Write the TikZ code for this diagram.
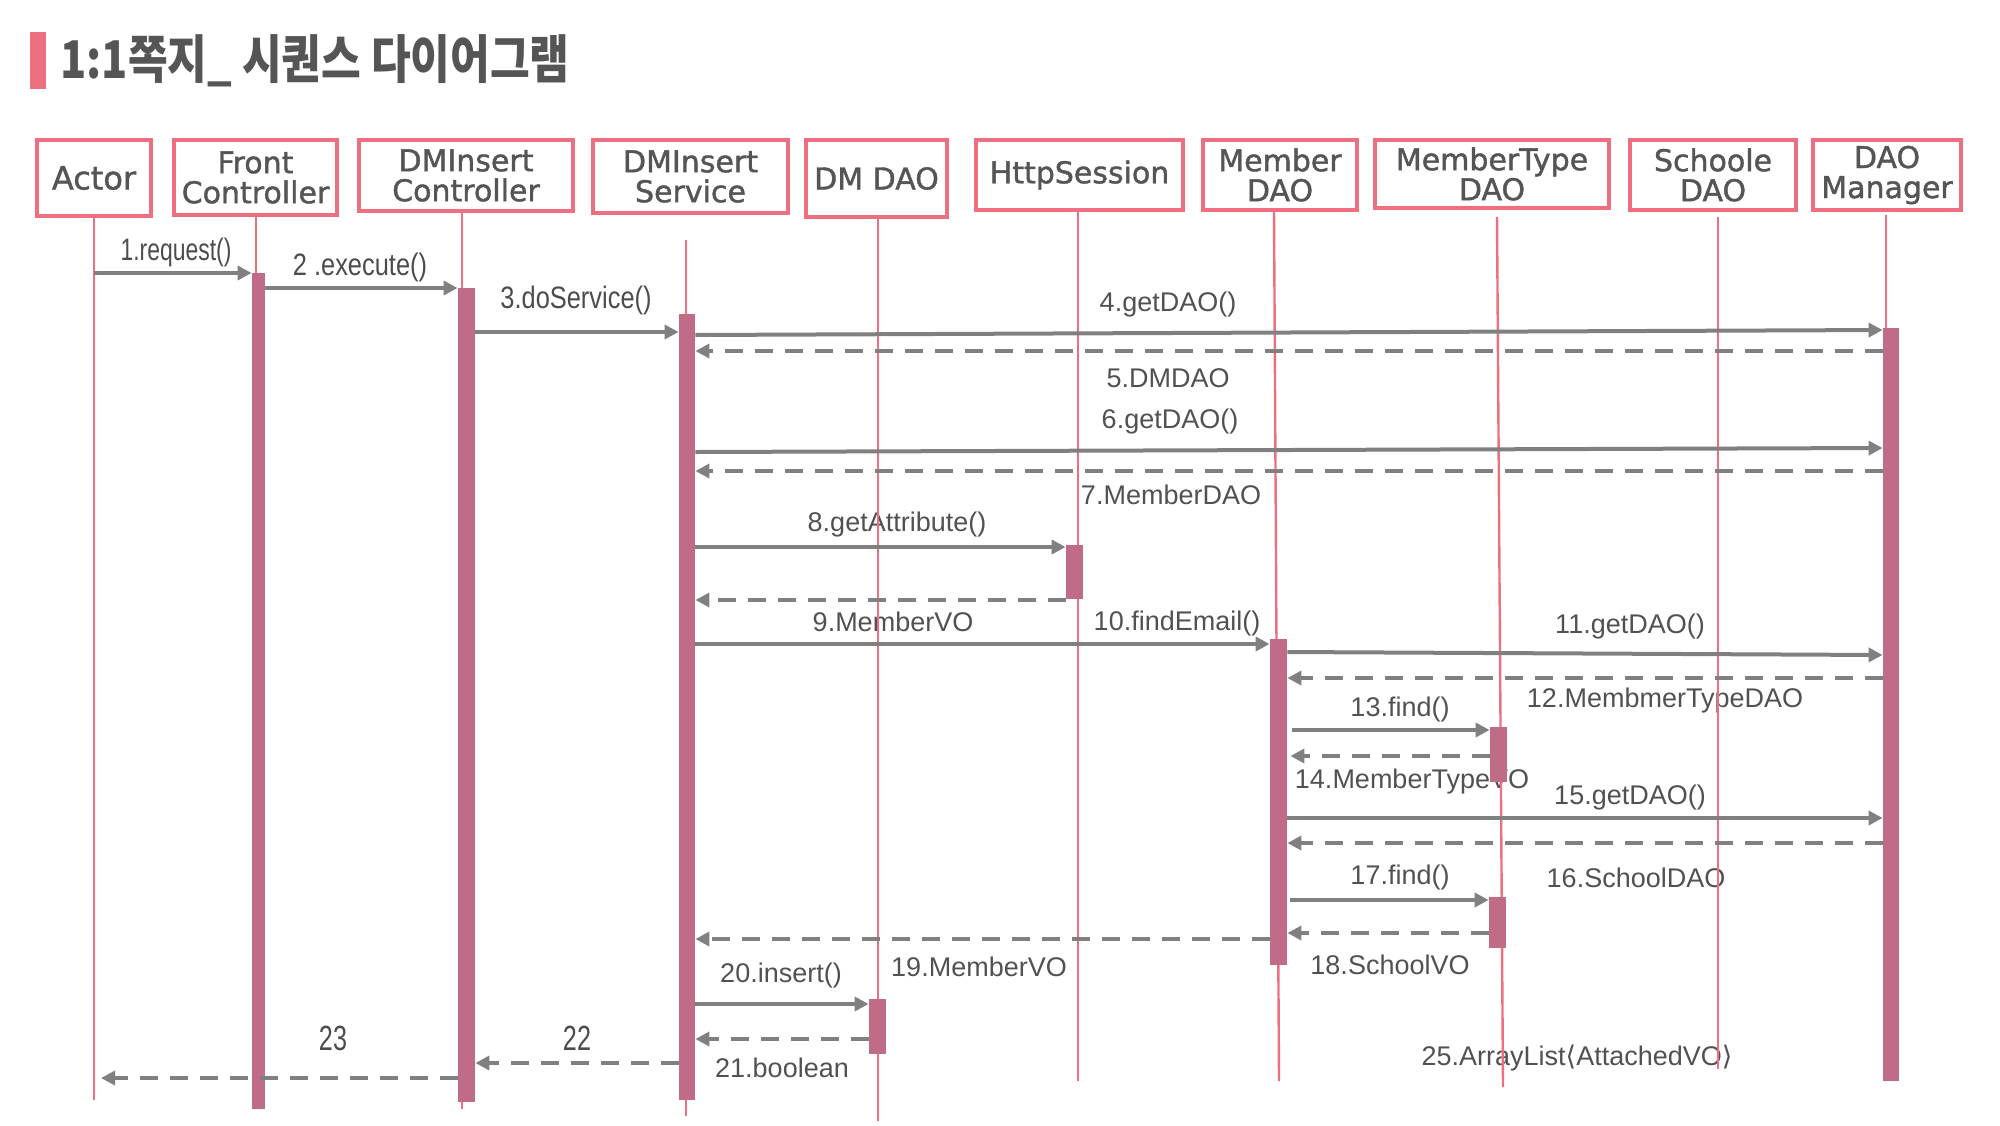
\documentclass[tikz,border=0pt]{standalone}
\usepackage{fontspec}
\usetikzlibrary{arrows.meta}
\newfontfamily\krfont{Noto Sans CJK KR}
\newfontfamily\boxfont[FakeBold=1.3]{DejaVu Sans}
\newfontfamily\brfont{DejaVu Sans}
\newfontfamily\lblfont{Liberation Sans}
\definecolor{pinkline}{HTML}{EE7080}
\definecolor{barcol}{HTML}{C06C86}
\definecolor{arrgray}{HTML}{808080}
\definecolor{txtgray}{HTML}{555555}
\tikzset{
  box/.style={draw=pinkline, line width=2pt, fill=white, inner sep=0pt, text=txtgray,
    font=\boxfont\fontsize{15}{15}\selectfont, align=center},
  life/.style={draw=pinkline, line width=1.2pt},
  actbar/.style={fill=barcol, draw=none, inner sep=0pt, minimum width=8.5pt},
  msg/.style={draw=arrgray, line width=2pt, -{Triangle[length=7pt,width=7pt]}},
  ret/.style={msg, dash pattern=on 9pt off 6pt},
  lbl/.style={text=txtgray!95!black, font=\lblfont\fontsize{13.5}{13.5}\selectfont, inner sep=0pt},
  clbl/.style={text=txtgray!90!black, font=\lblfont\fontsize{15.5}{15.5}\selectfont, inner sep=0pt}
}
\begin{document}
\begin{tikzpicture}[x=0.5pt,y=-0.5pt]
\useasboundingbox (0,0) rectangle (2000,1125);
% title
\fill[pinkline] (30,32) rectangle (46,89);
\node[anchor=base west, inner sep=0pt, text=txtgray] (title) at (60,78)
  {\scalebox{0.83}[1]{\krfont\bfseries\fontsize{26}{26}\selectfont 1:1쪽지\_ 시퀀스 다이어그램}};

% labels (drawn below lifelines)
\node[clbl] (l1) at (176,252) {\scalebox{0.74}[1]{1.request()}};
\node[clbl] (l2) at (360,267) {\scalebox{0.82}[1]{2 .execute()}};
\node[clbl] (l3) at (576,300) {\scalebox{0.82}[1]{3.doService()}};
\node[lbl] (l4) at (1168,305) {4.getDAO()};
\node[lbl] (l5) at (1168,378) {5.DMDAO};
\node[lbl] (l6) at (1170,422) {6.getDAO()};
\node[lbl] (l7) at (1171,495) {7.MemberDAO};
\node[lbl] (l8) at (897,525) {8.getAttribute()};
\node[lbl] (l9) at (893,622) {9.MemberVO};
\node[lbl] (l10) at (1177,623) {10.findEmail()};
\node[lbl] (l11) at (1630,627) {11.getDAO()};
\node[lbl] (l12) at (1665,701) {12.MembmerTypeDAO};
\node[lbl] (l13) at (1400,709) {13.find()};
\node[lbl] (l14) at (1412,782) {14.MemberTypeVO};
\node[lbl] (l15) at (1630,798) {15.getDAO()};
\node[lbl] (l16) at (1636,878) {16.SchoolDAO};
\node[lbl] (l17) at (1400,877) {17.find()};
\node[lbl] (l18) at (1390,965) {18.SchoolVO};
\node[lbl] (l19) at (979,967) {19.MemberVO};
\node[lbl] (l20) at (781,975) {20.insert()};
\node[lbl] (l21) at (782,1068) {21.boolean};
\node[clbl] (l22) at (577,1038) {\scalebox{0.72}[1]{\fontsize{17.5}{17.5}\selectfont 22}};
\node[clbl] (l23) at (333,1038) {\scalebox{0.72}[1]{\fontsize{17.5}{17.5}\selectfont 23}};
\node[lbl] (l25) at (1577,1058) {25.ArrayList{\brfont ⟨}AttachedVO{\brfont ⟩}};

% boxes
\node[box, font=\boxfont\fontsize{16}{16}\selectfont, minimum width=57pt, minimum height=38pt] (actor) at (94,178) {Actor};
\node[box, minimum width=81.5pt, minimum height=37.5pt] (front) at (255.5,177.5) {Front\\Controller};
\node[box, minimum width=107pt, minimum height=35.5pt] (dictl) at (466,175.5) {DMInsert\\Controller};
\node[box, minimum width=97.5pt, minimum height=36.5pt] (disvc) at (690.5,176.5) {DMInsert\\Service};
\node[box, minimum width=70.5pt, minimum height=38.5pt] (dmdao) at (876.5,178.5) {DM DAO};
\node[box, minimum width=103.5pt, minimum height=35pt] (http) at (1079.5,175) {HttpSession};
\node[box, minimum width=77pt, minimum height=35pt] (memdao) at (1280,175) {Member\\DAO};
\node[box, minimum width=117pt, minimum height=34pt] (mtdao) at (1492,174) {MemberType\\DAO};
\node[box, minimum width=83pt, minimum height=35pt] (schdao) at (1713,175) {Schoole\\DAO};
\node[box, minimum width=74pt, minimum height=35pt] (daomgr) at (1887,175) {DAO\\Manager};

% lifelines
\coordinate (la1) at (94,218);   \coordinate (lb1) at (94,1100);
\coordinate (la2) at (256,217);  \coordinate (lb2) at (256,1109);
\coordinate (la3) at (462,213);  \coordinate (lb3) at (462,1109);
\coordinate (la4) at (686,240);  \coordinate (lb4) at (686,1116);
\coordinate (la5) at (878,219);  \coordinate (lb5) at (878,1121);
\coordinate (la6) at (1078,212); \coordinate (lb6) at (1078,1081);
\coordinate (la7) at (1274,212); \coordinate (lb7) at (1279,1081);
\coordinate (la8) at (1497,217); \coordinate (lb8) at (1503,1087);
\coordinate (la9) at (1718,217); \coordinate (lb9) at (1718,1069);
\coordinate (la10) at (1886,215); \coordinate (lb10) at (1886,1081);
\foreach \i in {1,...,10} { \draw[life] (la\i) -- (lb\i); }

% activation bars
\node[actbar, minimum width=6.5pt, minimum height=418pt] (fcbar) at (258.5,691) {};
\node[actbar, minimum height=407pt] (dcbar) at (466.5,695) {};
\node[actbar, minimum width=8pt, minimum height=393pt] (svbar) at (687,707) {};
\node[actbar, minimum height=27pt] (hsbar) at (1074.5,572) {};
\node[actbar, minimum height=163pt] (mdbar) at (1278.5,802) {};
\node[actbar, minimum height=27.5pt] (mt1bar) at (1498.5,754.5) {};
\node[actbar, minimum height=25.5pt] (mt2bar) at (1497.5,922.5) {};
\node[actbar, minimum height=27.5pt] (dmbar) at (877.5,1026.5) {};
\node[actbar, minimum width=8pt, minimum height=376.5pt] (dambar) at (1891,704.5) {};

% messages
\draw[msg] (actor |- 0,273) -- (fcbar.west |- 0,273);
\draw[msg] (fcbar.east |- 0,288) -- (dcbar.west |- 0,288);
\draw[msg] (dcbar.east |- 0,332) -- (svbar.west |- 0,332);
\draw[msg] (svbar.east |- 0,335) -- (dambar.west |- 0,330);
\draw[ret] (dambar.west |- 0,351) -- (svbar.east |- 0,351);
\draw[msg] (svbar.east |- 0,452) -- (dambar.west |- 0,448);
\draw[ret] (dambar.west |- 0,471) -- (svbar.east |- 0,471);
\draw[msg] (svbar.east |- 0,547) -- (hsbar.west |- 0,547);
\draw[ret] (hsbar.west |- 0,600) -- (svbar.east |- 0,600);
\draw[msg] (svbar.east |- 0,644) -- (mdbar.west |- 0,644);
\draw[msg] (mdbar.east |- 0,652) -- (dambar.west |- 0,655);
\draw[ret] (dambar.west |- 0,678) -- (mdbar.east |- 0,678);
\draw[msg] ([xshift=2.5pt]mdbar.east |- 0,730) -- (mt1bar.west |- 0,730);
\draw[ret] (mt1bar.west |- 0,756) -- ([xshift=1.5pt]mdbar.east |- 0,756);
\draw[msg] (mdbar.east |- 0,818) -- (dambar.west |- 0,818);
\draw[ret] (dambar.west |- 0,843) -- (mdbar.east |- 0,843);
\draw[msg] ([xshift=1.5pt]mdbar.east |- 0,900) -- (mt2bar.west |- 0,900);
\draw[ret] (mt2bar.west |- 0,933) -- (mdbar.east |- 0,933);
\draw[ret] (mdbar.west |- 0,939) -- (svbar.east |- 0,939);
\draw[msg] (svbar.east |- 0,1004) -- (dmbar.west |- 0,1004);
\draw[ret] (dmbar.west |- 0,1039) -- (svbar.east |- 0,1039);
\draw[ret] (svbar.west |- 0,1063) -- (dcbar.east |- 0,1063);
\draw[ret] (dcbar.west |- 0,1078) -- ([xshift=3.5pt]actor |- 0,1078);
\end{tikzpicture}
\end{document}
